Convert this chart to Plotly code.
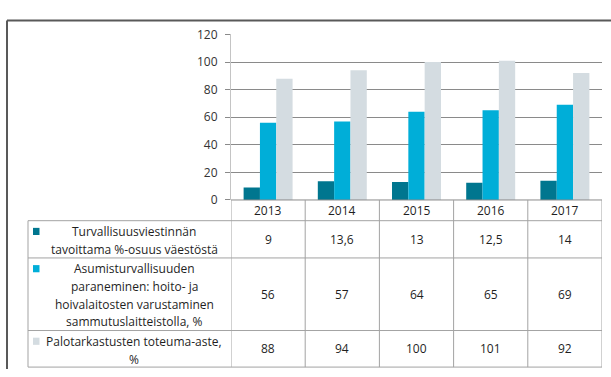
import plotly.graph_objects as go

# ---- data -------------------------------------------------------------
years = ["2013", "2014", "2015", "2016", "2017"]

series_names = [
    "Turvallisuusviestinnän\ntavoittama %-osuus väestöstä",
    "Asumisturvallisuuden\nparaneminen: hoito- ja\nhoivalaitosten varustaminen\nsammutuslaitteistolla, %",
    "Palotarkastusten toteuma-aste,\n%",
]
viestinta = [9, 13.6, 13, 12.5, 14]
asumisturvallisuus = [56, 57, 64, 65, 69]
palotarkastukset = [88, 94, 100, 101, 92]

series_values = [viestinta, asumisturvallisuus, palotarkastukset]
series_colors = ["#00768F", "#00AED8", "#D4DCE1"]

y_ticks = [0, 20, 40, 60, 80, 100, 120]

# ---- layout helpers (page pixels -> paper fractions) -------------------
W, H = 611, 377


def px(x):
    return x / W


def py(y):
    return 1 - y / H


FONT = "Open Sans"
FSIZE = 12
TXT = "#1f1f1f"
GRID = "#8a8a8a"
TABLE_LINE = "#a3a3a3"

plot_left, plot_right = 231, 602
plot_top, plot_bottom = 26.7, 200
row_edges = [200, 221.7, 260.7, 336.7, 375]
label_left = 28
label_cx = 134
line_step = 18.5


def fmt(v):
    return str(v).replace(".", ",")


fig = go.Figure()
for name, vals, col in zip(series_names, series_values, series_colors):
    fig.add_trace(go.Bar(
        x=years, y=vals, name=name.replace("\n", " "),
        marker=dict(color=col, line=dict(width=0)),
        showlegend=False,
    ))

shapes = []
annotations = []

# outer frame (top and left edges)
shapes.append(dict(type="line", xref="paper", yref="paper",
                   x0=px(7), x1=px(611), y0=py(12), y1=py(12),
                   line=dict(color="#595959", width=2)))
shapes.append(dict(type="line", xref="paper", yref="paper",
                   x0=px(7), x1=px(7), y0=py(12), y1=py(377),
                   line=dict(color="#595959", width=2)))

# table horizontal rules
shapes.append(dict(type="line", xref="paper", yref="paper",
                   x0=px(plot_left), x1=px(plot_right),
                   y0=py(row_edges[0]), y1=py(row_edges[0]),
                   line=dict(color=GRID, width=1)))
for ry in row_edges[1:]:
    shapes.append(dict(type="line", xref="paper", yref="paper",
                       x0=px(label_left), x1=px(plot_right), y0=py(ry), y1=py(ry),
                       line=dict(color=TABLE_LINE, width=1)))

# table vertical rules at category boundaries
for i in range(len(years) + 1):
    shapes.append(dict(type="line", xref="x", yref="paper",
                       x0=i - 0.5, x1=i - 0.5,
                       y0=py(row_edges[0]), y1=py(row_edges[-1]),
                       line=dict(color=TABLE_LINE, width=1)))
shapes.append(dict(type="line", xref="paper", yref="paper",
                   x0=px(label_left), x1=px(label_left),
                   y0=py(row_edges[1]), y1=py(row_edges[-1]),
                   line=dict(color=TABLE_LINE, width=1)))

# header row: years (positioned on the category axis by index)
for i, yr in enumerate(years):
    annotations.append(dict(x=i, xref="x", y=py((row_edges[0] + row_edges[1]) / 2),
                            yref="paper", text=yr, showarrow=False,
                            xanchor="center", yanchor="middle",
                            font=dict(family=FONT, size=FSIZE, color=TXT)))

# data rows: legend key, series label, values
for r, (name, vals, col) in enumerate(zip(series_names, series_values, series_colors)):
    top, bot = row_edges[r + 1], row_edges[r + 2]
    lines = name.split("\n")
    first_y = top + 11.5
    shapes.append(dict(type="rect", xref="paper", yref="paper",
                       x0=px(33), x1=px(39.5), y0=py(first_y - 4), y1=py(first_y + 3.5),
                       fillcolor=col, line=dict(width=0)))
    for k, ln in enumerate(lines):
        annotations.append(dict(x=px(label_cx), xref="paper",
                                y=py(first_y + k * line_step), yref="paper",
                                text=ln, showarrow=False,
                                xanchor="center", yanchor="middle",
                                font=dict(family=FONT, size=FSIZE, color=TXT)))
    for i, v in enumerate(vals):
        annotations.append(dict(x=i, xref="x", y=py((top + bot) / 2), yref="paper",
                                text=fmt(v), showarrow=False,
                                xanchor="center", yanchor="middle",
                                font=dict(family=FONT, size=FSIZE, color=TXT)))

fig.update_layout(
    width=W, height=H,
    margin=dict(l=0, r=0, t=0, b=0),
    paper_bgcolor="white", plot_bgcolor="white",
    barmode="group", bargap=0.34, bargroupgap=0,
    xaxis=dict(domain=[px(plot_left), px(plot_right)], type="category",
               range=[-0.5, len(years) - 0.5],
               showticklabels=False, showgrid=False, zeroline=False,
               showline=False, ticks=""),
    yaxis=dict(domain=[py(plot_bottom), py(plot_top)], range=[0, 120],
               tickvals=y_ticks, showgrid=True, gridcolor=GRID, gridwidth=1,
               zeroline=False, showline=True, linecolor="#c4c4c4", linewidth=1,
               ticks="outside", ticklen=5, tickcolor=GRID,
               ticklabelstandoff=5,
               tickfont=dict(family=FONT, size=FSIZE, color="#333333")),
    shapes=shapes,
    annotations=annotations,
)

fig.write_html("out.html")
